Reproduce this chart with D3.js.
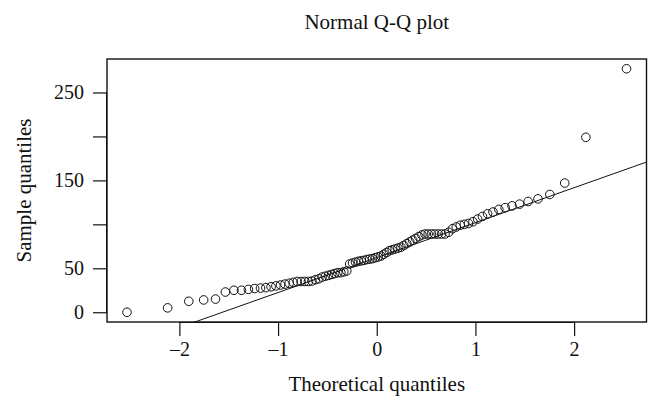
<!DOCTYPE html>
<html>
<head>
<meta charset="utf-8">
<script src="https://cdn.jsdelivr.net/npm/d3@7"></script>
<style>
  html, body { margin: 0; padding: 0; background: #fff; }
  svg text { font-family: "Liberation Serif", "DejaVu Serif", serif; fill: #111; }
</style>
</head>
<body>
<svg id="chart" width="661" height="412"></svg>
<script>
// Theoretical normal quantiles (n = 88), lower half; upper half is symmetric
const theoreticalLower = [-2.531, -2.119, -1.905, -1.754, -1.634, -1.534, -1.447, -1.371, -1.301, -1.237,
  -1.178, -1.123, -1.071, -1.022, -0.975, -0.930, -0.887, -0.846, -0.806, -0.767,
  -0.729, -0.692, -0.657, -0.622, -0.587, -0.554, -0.521, -0.489, -0.457, -0.426,
  -0.395, -0.364, -0.334, -0.304, -0.274, -0.245, -0.215, -0.186, -0.157, -0.128,
  -0.100, -0.071, -0.043, -0.014];
const theoretical = theoreticalLower.concat(theoreticalLower.slice().reverse().map(v => -v));

// Sorted sample values
const sample = [0, 5, 12.5, 14, 15, 23, 25, 25, 26, 27,
  27.5, 28, 29, 30, 31, 32, 33, 34, 35, 35,
  35, 35, 35.5, 37, 38, 40, 41, 42, 43, 44,
  45, 45, 46, 47, 55, 56, 57, 58, 58.5, 59,
  60, 60.5, 61, 62, 63, 64, 66, 68, 70, 71,
  72, 73, 74, 76, 78, 80, 82, 84, 86, 88,
  89, 89, 89, 89, 89, 89, 89, 91, 95, 97,
  99, 100, 101, 103, 106, 109, 112, 114, 117, 119,
  121, 123, 126, 129, 134, 147, 199, 277];

const xTicks = [-2, -1, 0, 1, 2];
const yTicks = [0, 50, 100, 150, 200, 250];
const yTickLabels = [0, 50, 150, 250];

const titleText = "Normal Q-Q plot";
const xLabelText = "Theoretical quantiles";
const yLabelText = "Sample quantiles";

const svg = d3.select("#chart");
const box = { left: 107, right: 646.5, top: 59, bottom: 322 };

const xr = d3.extent(theoretical), yr = d3.extent(sample);
const xe = (xr[1] - xr[0]) * 0.04, ye = (yr[1] - yr[0]) * 0.04;
const x = d3.scaleLinear().domain([xr[0] - xe, xr[1] + xe]).range([box.left, box.right]);
const y = d3.scaleLinear().domain([yr[0] - ye, yr[1] + ye]).range([box.bottom, box.top]);

const fsTick = 20, fsLab = 21;

// X axis (ticks below box)
const xAxis = svg.append("g").attr("transform", `translate(0,${box.bottom})`)
  .call(d3.axisBottom(x).tickValues(xTicks).tickSize(14).tickPadding(6)
    .tickFormat(d => d < 0 ? "\u2013" + Math.abs(d) : String(d)));
xAxis.select(".domain").attr("d", `M${x(xTicks[0])},0.5H${x(xTicks[xTicks.length-1])}`).attr("stroke", "#111");
xAxis.selectAll(".tick line").attr("stroke", "#111").attr("stroke-width", 1.2);
xAxis.selectAll(".tick text").attr("font-size", fsTick).attr("fill", "#111");

// Y axis
const yAxis = svg.append("g").attr("transform", `translate(${box.left},0)`)
  .call(d3.axisLeft(y).tickValues(yTicks).tickSize(14).tickPadding(9)
    .tickFormat(d => yTickLabels.includes(d) ? String(d) : ""));
yAxis.select(".domain").attr("d", `M-0.5,${y(yTicks[0])}V${y(yTicks[yTicks.length-1])}`).attr("stroke", "#111");
yAxis.selectAll(".tick line").attr("stroke", "#111").attr("stroke-width", 1.2);
yAxis.selectAll(".tick text").attr("font-size", fsTick).attr("fill", "#111");

// Clip for the plot region
svg.append("clipPath").attr("id", "clip").append("rect")
  .attr("x", box.left).attr("y", box.top)
  .attr("width", box.right - box.left).attr("height", box.bottom - box.top);

// Q-Q line through the quartiles
const q1 = d3.quantile(sample, 0.25), q3 = d3.quantile(sample, 0.75);
const z1 = -0.6744898, z3 = 0.6744898;
const slope = (q3 - q1) / (z3 - z1);
const intercept = q1 - slope * z1;
const xd = x.domain();
svg.append("line")
  .attr("clip-path", "url(#clip)")
  .attr("x1", x(xd[0])).attr("y1", y(intercept + slope * xd[0]))
  .attr("x2", x(xd[1])).attr("y2", y(intercept + slope * xd[1]))
  .attr("stroke", "#111").attr("stroke-width", 1);

// Points
svg.append("g").attr("clip-path", "url(#clip)")
  .selectAll("circle").data(theoretical.map((t, i) => [t, sample[i]]))
  .join("circle")
  .attr("cx", d => x(d[0])).attr("cy", d => y(d[1]))
  .attr("r", 4.3)
  .attr("fill", "none").attr("stroke", "#111").attr("stroke-width", 1);

// Box
svg.append("rect")
  .attr("x", box.left).attr("y", box.top)
  .attr("width", box.right - box.left).attr("height", box.bottom - box.top)
  .attr("fill", "none").attr("stroke", "#111").attr("stroke-width", 1.4);

// Title and labels
const cx = (box.left + box.right) / 2;
svg.append("text").attr("x", cx).attr("y", 29).attr("text-anchor", "middle")
  .attr("font-size", fsLab).text(titleText);
svg.append("text").attr("x", cx).attr("y", 391).attr("text-anchor", "middle")
  .attr("font-size", fsLab).text(xLabelText);
svg.append("text").attr("transform", `translate(31,${(box.top + box.bottom) / 2}) rotate(-90)`)
  .attr("text-anchor", "middle").attr("font-size", fsLab).text(yLabelText);
</script>
</body>
</html>
